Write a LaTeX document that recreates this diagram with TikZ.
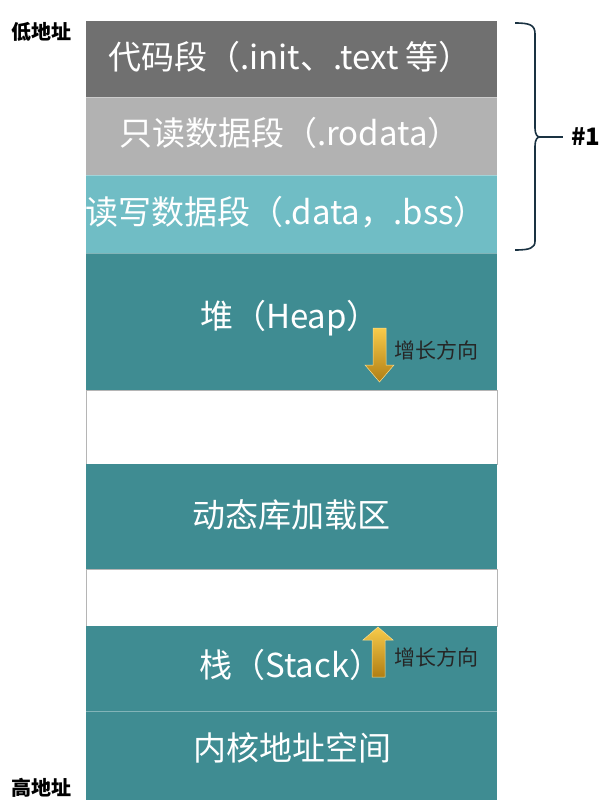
\documentclass[tikz,border=0pt]{standalone}
\usepackage{fontspec}
\setmainfont{Noto Sans CJK SC}
\definecolor{codegray}{HTML}{707070}
\definecolor{rogray}{HTML}{B2B2B2}
\definecolor{rwteal}{HTML}{70BDC5}
\definecolor{teal}{HTML}{3F8C92}
\definecolor{bracecol}{HTML}{1A3242}
\definecolor{gapline}{HTML}{B5B5B5}
\definecolor{arrtop}{HTML}{F8CB4A}
\definecolor{arrbot}{HTML}{B07E14}
\begin{document}
\begin{tikzpicture}[x=1pt,y=-1pt,
  bandtext/.style={text=white,inner sep=0pt,font=\fontsize{33}{33}\selectfont},
  growtext/.style={text=black!85,inner sep=0pt,font=\fontsize{21}{21}\selectfont},
  addrtext/.style={text=black,inner sep=0pt,font=\bfseries\fontsize{20}{20}\selectfont},
  sepline/.style={white,opacity=0.35,line width=1pt},
  gaprect/.style={fill=white,draw=gapline,line width=0.8pt},
  growarrow/.style={top color=arrtop,bottom color=arrbot,draw=arrtop!60!white,line width=0.5pt}]
\useasboundingbox (0,0) rectangle (615,800);
\fill[white] (0,0) rectangle (615,800);
% bands
\fill[codegray] (86,21) rectangle (497,97);
\fill[rogray] (86,97) rectangle (497,175);
\fill[rwteal] (86,175) rectangle (497,253);
\fill[teal] (86,253) rectangle (497,390);
\path[gaprect] (86,390) rectangle (497,464);
\fill[teal] (86,464) rectangle (497,569);
\path[gaprect] (86,569) rectangle (497,626);
\fill[teal] (86,626) rectangle (497,711);
\fill[teal] (86,711) rectangle (497,800);
\draw[sepline] (86,97) -- (497,97);
\draw[sepline] (86,175) -- (497,175);
\draw[sepline] (86,253) -- (497,253);
\draw[sepline] (86,711) -- (497,711);
% band labels
\node[bandtext] (code) at (290,57) {代码段（.init、.text 等）};
\node[bandtext] (ro) at (290,133) {只读数据段（.rodata）};
\node[bandtext] (rw) at (286,212) {读写数据段（.data，.bss）};
\node[bandtext] (heap) at (290,318) {堆（Heap）};
\node[bandtext] (dyn) at (291,515) {动态库加载区};
\node[bandtext] (stack) at (291,665) {栈（Stack）};
\node[bandtext] (kernel) at (292,748) {内核地址空间};
% growth arrows
\shade[growarrow] (373,328) -- (386,328) -- (386,365) -- (394,365) -- (379.5,382) -- (365,365) -- (373,365) -- cycle;
\node[growtext,anchor=west] (heapgrow) at (394,350) {增长方向};
\shade[growarrow] (378,627) -- (393,640) -- (385,640) -- (385,677) -- (372,677) -- (372,640) -- (363,640) -- cycle;
\node[growtext,anchor=west] (stackgrow) at (394,657) {增长方向};
% address labels
\node[addrtext] (low) at (42,32) {低地址};
\node[addrtext] (high) at (42,788) {高地址};
% brace
\coordinate (btop) at (515,23);
\coordinate (bbot) at (515,250);
\coordinate (btip) at (540,137);
\coordinate (bend) at (563,137);
\draw[bracecol,line width=1.6pt,line join=round]
  (btop) .. controls (530,23) and (535,25) .. (535,34) -- (535,128)
  .. controls (535,134) and (537,137) .. (btip)
  .. controls (537,137) and (535,140) .. (535,146) -- (535,241)
  .. controls (535,248) and (530,250) .. (bbot);
\draw[bracecol,line width=1.6pt] (btip) -- (bend);
\node[addrtext,anchor=west,font=\bfseries\fontsize{24}{24}\selectfont] (num) at (571,137) {\#1};
\end{tikzpicture}
\end{document}
